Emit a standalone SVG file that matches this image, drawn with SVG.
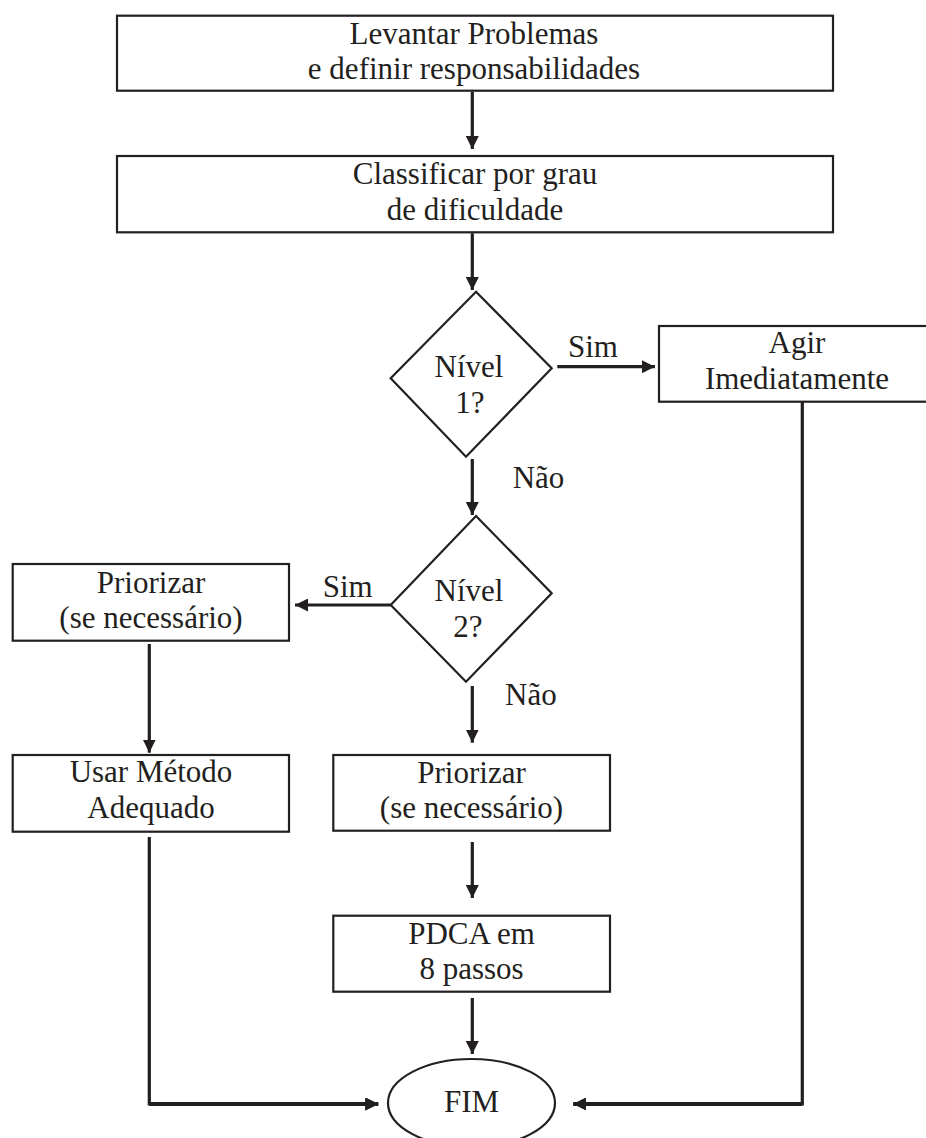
<svg xmlns="http://www.w3.org/2000/svg" width="926" height="1138" viewBox="0 0 926 1138">
<style>
text{font-family:"Liberation Serif","Times New Roman",serif;font-size:31px;fill:#231f20;text-anchor:middle}
.lbl{text-anchor:start}
.box{fill:#fff;stroke:#231f20;stroke-width:2.2}
.con{fill:none;stroke:#231f20;stroke-width:3.2}
.thick{stroke-width:4}
</style>
<defs>
<marker id="ah" markerUnits="userSpaceOnUse" markerWidth="14" markerHeight="13" refX="13" refY="6.5" orient="auto">
<path d="M0,0 L13,6.5 L0,13 z" fill="#231f20"/>
</marker>
</defs>
<rect width="926" height="1138" fill="#fff"/>
<g id="connectors">
<line class="con" x1="472.3" y1="91.7" x2="472.3" y2="149" marker-end="url(#ah)"/>
<line class="con" x1="472.3" y1="233.3" x2="472.3" y2="290" marker-end="url(#ah)"/>
<line class="con" x1="557.3" y1="366.7" x2="655" y2="366.7" marker-end="url(#ah)"/>
<line class="con" x1="472.3" y1="459" x2="472.3" y2="515" marker-end="url(#ah)"/>
<line class="con" x1="390.7" y1="605" x2="295" y2="605" marker-end="url(#ah)"/>
<line class="con" x1="149.3" y1="644" x2="149.3" y2="752.7" marker-end="url(#ah)"/>
<line class="con" x1="472.3" y1="686" x2="472.3" y2="742.7" marker-end="url(#ah)"/>
<line class="con" x1="472.3" y1="842" x2="472.3" y2="898" marker-end="url(#ah)"/>
<line class="con" x1="472.3" y1="998" x2="472.3" y2="1054" marker-end="url(#ah)"/>
<polyline class="con" points="149.3,837 149.3,1104 378.3,1104" stroke-width="2.8" marker-end="url(#ah)"/>
<line class="con thick" x1="149.3" y1="1104" x2="378.3" y2="1104" marker-end="url(#ah)"/>
<polyline class="con" points="802.3,401.7 802.3,1104 573.3,1104" stroke-width="2.8" marker-end="url(#ah)"/>
<line class="con thick" x1="802.3" y1="1104" x2="573.3" y2="1104" marker-end="url(#ah)"/>
<text class="lbl" x="568" y="356.7">Sim</text>
<text class="lbl" x="512.7" y="487.7">Não</text>
<text class="lbl" x="322.7" y="597.3">Sim</text>
<text class="lbl" x="505" y="705">Não</text>
</g>
<g id="n_levantar">
<rect class="box" x="117" y="15.7" width="716" height="75"/>
<text x="474" y="44.3">Levantar Problemas</text>
<text x="474" y="79">e definir responsabilidades</text>
</g>
<g id="n_classificar">
<rect class="box" x="117" y="156" width="716" height="76.3"/>
<text x="475" y="184.3">Classificar por grau</text>
<text x="475" y="220">de dificuldade</text>
</g>
<g id="n_nivel1">
<polygon class="box" points="476,291.7 551.7,368.3 466,456.7 390.7,378.3"/>
<text x="469" y="376.7">Nível</text>
<text x="470" y="412.7">1?</text>
</g>
<g id="n_agir">
<rect class="box" x="659" y="326" width="278" height="75.7"/>
<text x="797" y="353.3">Agir</text>
<text x="797" y="389.3">Imediatamente</text>
</g>
<g id="n_nivel2">
<polygon class="box" points="476,516 551.7,593.3 466,681.7 390.7,605"/>
<text x="469" y="600.7">Nível</text>
<text x="468" y="636.7">2?</text>
</g>
<g id="n_priorizar1">
<rect class="box" x="12.7" y="564" width="276.3" height="76.7"/>
<text x="151" y="592.7">Priorizar</text>
<text x="151" y="628">(se necessário)</text>
</g>
<g id="n_usar">
<rect class="box" x="12.7" y="755" width="276.3" height="76.7"/>
<text x="151" y="781.7">Usar Método</text>
<text x="151" y="817.7">Adequado</text>
</g>
<g id="n_priorizar2">
<rect class="box" x="333.3" y="755" width="276.7" height="75.7"/>
<text x="471.5" y="782.7">Priorizar</text>
<text x="471.5" y="818">(se necessário)</text>
</g>
<g id="n_pdca">
<rect class="box" x="333.3" y="915.7" width="276.7" height="76"/>
<text x="471.5" y="944">PDCA em</text>
<text x="471.5" y="979">8 passos</text>
</g>
<g id="n_fim">
<ellipse class="box" cx="471.5" cy="1103" rx="83.5" ry="44" stroke-width="2.5"/>
<text x="471.5" y="1112">FIM</text>
</g>
</svg>
